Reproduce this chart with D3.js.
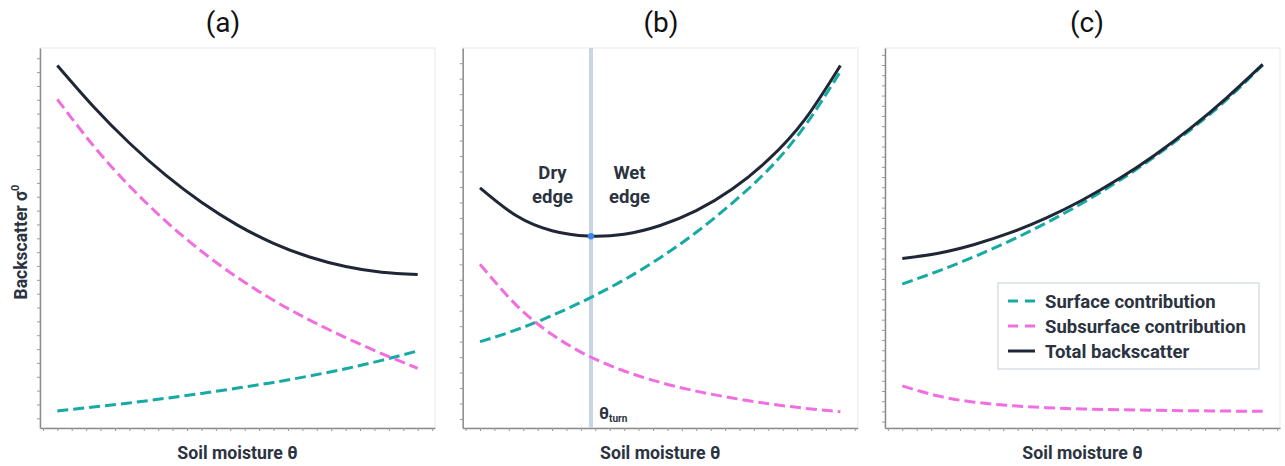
<!DOCTYPE html>
<html>
<head>
<meta charset="utf-8">
<script src="https://cdn.jsdelivr.net/npm/d3@7"></script>
<style>
  body { margin: 0; background: #fff; }
  svg { display: block; font-family: Roboto, "Noto Sans", sans-serif; }
</style>
</head>
<body>
<svg id="chart"></svg>
<script>
// Sample positions along soil moisture (tick units)
const theta = [1, 3.5, 6, 8.5, 11, 13.5, 16, 18.5, 21, 23.5, 26];

const panelTitles = ["(a)", "(b)", "(c)"];
const legendLabels = ["Surface contribution", "Subsurface contribution", "Total backscatter"];

// Panel (a)
const surfaceA    = [4.5, 5.5, 6.6, 7.8, 9.1, 10.5, 12.0, 13.7, 15.6, 17.8, 20.3];
const subsurfaceA = [86.5, 74.3, 63.7, 54.5, 46.5, 39.6, 33.6, 28.4, 23.8, 19.6, 15.7];
const totalA      = [95.4, 84.6, 75.0, 66.6, 59.4, 53.4, 48.6, 45.0, 42.5, 41.0, 40.4];

// Panel (b)
const surfaceB    = [22.7, 25.8, 29.6, 34.0, 39.0, 44.8, 51.5, 59.2, 68.0, 79.3, 93.8];
const subsurfaceB = [43.1, 32.4, 24.6, 19.0, 15.0, 12.0, 9.7, 7.9, 6.4, 5.2, 4.3];
const totalB      = [63.2, 55.9, 51.9, 50.5, 51.0, 53.3, 57.2, 62.9, 70.6, 81.0, 95.4];
const thetaTurn = 8.7;
const turnValue = 50.45;

// Panel (c)
const surfaceC    = [37.9, 41.3, 45.1, 49.3, 54.0, 59.2, 65.0, 71.4, 78.5, 86.4, 95.5];
const subsurfaceC = [11.1, 8.4, 6.8, 5.9, 5.35, 5.0, 4.8, 4.65, 4.55, 4.45, 4.4];
const totalC      = [44.6, 46.0, 48.3, 51.4, 55.3, 60.0, 65.5, 71.8, 78.9, 86.9, 95.7];

// Unlabelled minor ticks
const xTickCount = 28;
const yTickCount  = [27, 24, 37];
const yTickBottom = [2.55, 2.37, 1.7];
const yTickTop    = [97.3, 96.0, 98.2];

const panels = [
  { surface: surfaceA, subsurface: subsurfaceA, total: totalA },
  { surface: surfaceB, subsurface: subsurfaceB, total: totalB },
  { surface: surfaceC, subsurface: subsurfaceC, total: totalC }
];

const colors = { surface: "#17a9a3", subsurface: "#f06ee0", total: "#1f2636" };
const textColor = "#2b3341";

const W = 1285, H = 466;
const panelLeft = [40, 462.7, 885];
const titleX = [223, 661, 1087];
const plotTop = 48, pw = 395, ph = 380;

const svg = d3.select("#chart").attr("width", W).attr("height", H);

const x = d3.scaleLinear().domain([-0.2, 27.2]).range([0, pw]);
const y = d3.scaleLinear().domain([0, 100]).range([ph, 0]);

const line = d3.line()
  .x(d => x(d[0]))
  .y(d => y(d[1]))
  .curve(d3.curveNatural);

panels.forEach((p, i) => {
  const g = svg.append("g").attr("transform", `translate(${panelLeft[i]},${plotTop})`);

  // faint frame
  g.append("rect")
    .attr("x", 0).attr("y", 0).attr("width", pw).attr("height", ph)
    .attr("fill", "none").attr("stroke", "#f0f0f0").attr("stroke-width", 1.5);

  // axes
  const yTicks = d3.range(yTickCount[i]).map(k =>
    yTickBottom[i] + k * (yTickTop[i] - yTickBottom[i]) / (yTickCount[i] - 1));

  const ya = g.append("g")
    .call(d3.axisLeft(y).tickValues(yTicks).tickFormat("").tickSize(3).tickSizeOuter(0));
  const xa = g.append("g")
    .attr("transform", `translate(0,${ph})`)
    .call(d3.axisBottom(x).tickValues(d3.range(xTickCount)).tickFormat("").tickSize(3).tickSizeOuter(0));
  [ya, xa].forEach(a => {
    a.select(".domain").attr("stroke", "#8c8c8c").attr("stroke-width", 1.5);
    a.selectAll(".tick line").attr("stroke", "#9a9a9a").attr("stroke-width", 1);
  });

  // turning point line in panel (b)
  if (i === 1) {
    g.append("line")
      .attr("x1", x(thetaTurn)).attr("x2", x(thetaTurn))
      .attr("y1", 0).attr("y2", ph)
      .attr("stroke", "#c9d5e4").attr("stroke-width", 4);
  }

  ["surface", "subsurface", "total"].forEach(key => {
    g.append("path")
      .datum(theta.map((t, k) => [t, p[key][k]]))
      .attr("d", line)
      .attr("fill", "none")
      .attr("stroke", colors[key])
      .attr("stroke-width", 3)
      .attr("stroke-dasharray", key === "total" ? null : "11,5");
  });

  if (i === 1) {
    g.append("circle")
      .attr("cx", x(thetaTurn)).attr("cy", y(turnValue)).attr("r", 3.2)
      .attr("fill", "#3a87e8");

    g.append("text")
      .attr("x", x(thetaTurn) + 8).attr("y", ph - 9)
      .attr("font-size", 17).attr("font-weight", 700).attr("fill", textColor)
      .text("θ")
      .append("tspan")
      .attr("font-size", 10).attr("dy", 3).text("turn");

    const edge = g.append("g")
      .attr("font-size", 18.5).attr("font-weight", 700).attr("fill", textColor)
      .attr("text-anchor", "middle");
    [["Dry", "edge", x(thetaTurn) - 38.5], ["Wet", "edge", x(thetaTurn) + 38.5]].forEach(([a, b, cx]) => {
      edge.append("text").attr("x", cx).attr("y", 179 - plotTop).text(a);
      edge.append("text").attr("x", cx).attr("y", 203 - plotTop).text(b);
    });
  }

  // title and x label
  svg.append("text")
    .attr("x", titleX[i]).attr("y", 32)
    .attr("text-anchor", "middle")
    .attr("font-size", 28).attr("fill", "#111")
    .text(panelTitles[i]);

  svg.append("text")
    .attr("x", panelLeft[i] + pw / 2).attr("y", 459)
    .attr("text-anchor", "middle")
    .attr("font-size", 17.7).attr("font-weight", 700).attr("fill", textColor)
    .text("Soil moisture θ");
});

// y label
const yl = svg.append("text")
  .attr("transform", "translate(27,242) rotate(-90)")
  .attr("text-anchor", "middle")
  .attr("font-size", 17.5).attr("font-weight", 700).attr("fill", textColor)
  .text("Backscatter σ");
yl.append("tspan").attr("font-size", 11).attr("dy", -8).text("0");

// legend in panel (c)
const lg = svg.append("g").attr("transform", "translate(998,283)");
lg.append("rect")
  .attr("width", 261).attr("height", 86)
  .attr("fill", "#fff").attr("stroke", "#cfd8e3").attr("stroke-width", 1.2);
["surface", "subsurface", "total"].forEach((key, k) => {
  const ry = 18 + k * 25;
  lg.append("line")
    .attr("x1", 10).attr("x2", 37).attr("y1", ry).attr("y2", ry)
    .attr("stroke", colors[key]).attr("stroke-width", 3)
    .attr("stroke-dasharray", key === "total" ? null : "10,7");
  lg.append("text")
    .attr("x", 47).attr("y", ry + 6.5)
    .attr("font-size", 18.5).attr("font-weight", 700).attr("fill", textColor)
    .text(legendLabels[k]);
});
</script>
</body>
</html>
